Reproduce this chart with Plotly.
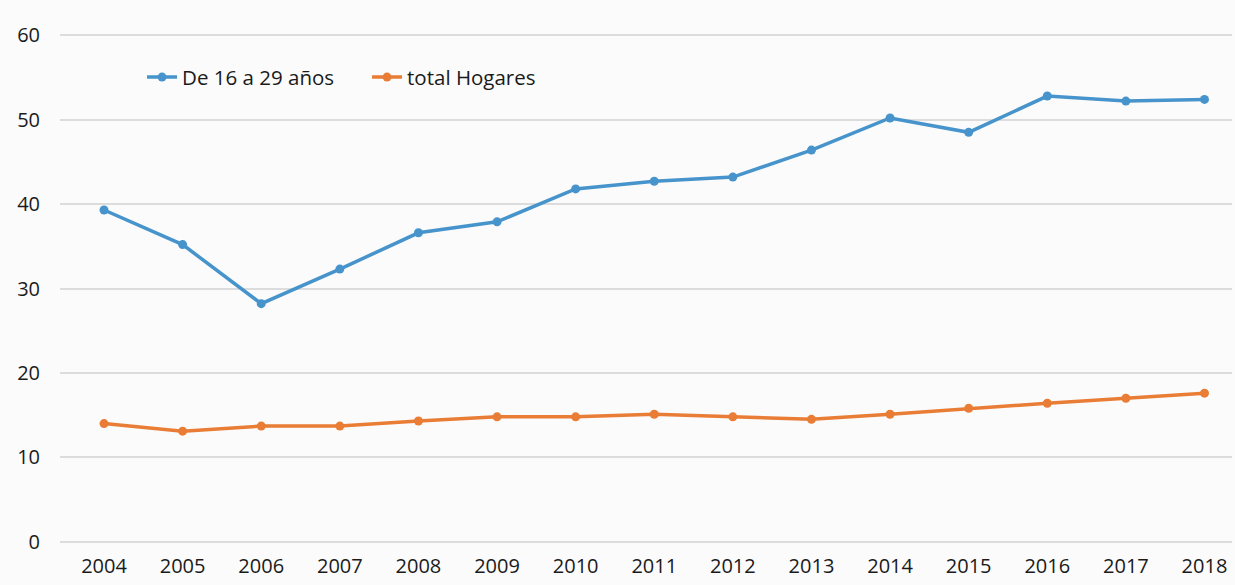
import plotly.graph_objects as go

years = [2004, 2005, 2006, 2007, 2008, 2009, 2010, 2011, 2012, 2013, 2014, 2015, 2016, 2017, 2018]
jovenes = [39.3, 35.2, 28.2, 32.3, 36.6, 37.9, 41.8, 42.7, 43.2, 46.4, 50.2, 48.5, 52.8, 52.2, 52.4]
total_hogares = [14.0, 13.1, 13.7, 13.7, 14.3, 14.8, 14.8, 15.1, 14.8, 14.5, 15.1, 15.8, 16.4, 17.0, 17.6]
y_ticks = [0, 10, 20, 30, 40, 50, 60]

blue = "#4694cb"
orange = "#e97d35"

fig = go.Figure()
fig.add_trace(go.Scatter(x=years, y=jovenes, name="De 16 a 29 años", mode="lines+markers",
                         line=dict(color=blue, width=3.5), marker=dict(color=blue, size=9)))
fig.add_trace(go.Scatter(x=years, y=total_hogares, name="total Hogares", mode="lines+markers",
                         line=dict(color=orange, width=3.5), marker=dict(color=orange, size=9)))

fig.update_layout(
    width=1235, height=585,
    margin=dict(l=60, r=3, t=34, b=42),
    paper_bgcolor="#fbfbfb", plot_bgcolor="#fbfbfb",
    font=dict(family="Open Sans, Lato, sans-serif", size=20, color="#1a1a1a"),
    legend=dict(orientation="h", x=0.07, y=0.915, xanchor="left", yanchor="middle",
                bgcolor="rgba(0,0,0,0)", font=dict(size=20.5, color="#1a1a1a"),
                itemwidth=30, tracegroupgap=0, entrywidth=180, entrywidthmode="pixels"),
    showlegend=True,
)
fig.update_xaxes(range=[2003.44, 2018.35], tickvals=years, ticktext=[str(y) for y in years],
                 showgrid=False, zeroline=False, showline=False, ticks="", ticklabelstandoff=9,
                 tickfont=dict(size=20))
fig.update_yaxes(range=[-0.15, 60.15], tickvals=y_ticks, showgrid=True, gridcolor="#dcdcdc", gridwidth=1.5,
                 zeroline=False, showline=False, ticks="", ticklabelstandoff=19,
                 tickfont=dict(size=20))

fig.write_html("out.html")
